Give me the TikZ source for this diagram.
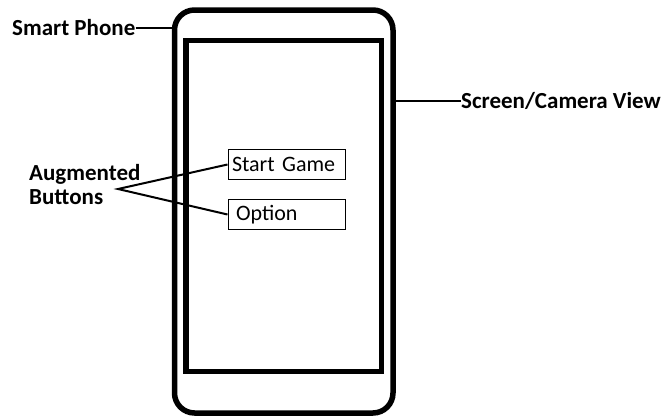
\documentclass[tikz,border=0pt]{standalone}
\usepackage{fontspec}
\setmainfont{Carlito}
\begin{document}
\begin{tikzpicture}[x=1pt,y=-1pt,
  thickframe/.style={draw, line width=5.5pt, rounded corners=#1, inner sep=0pt, outer sep=0pt},
  lbl/.style={font=\bfseries\fontsize{23}{24}\selectfont, inner sep=0pt, anchor=west},
  btn/.style={draw, line width=1pt, minimum width=117pt, minimum height=30pt, inner sep=0pt, text width=109pt, align=left, font=\fontsize{22}{24}\selectfont},
  conn/.style={line width=2pt}]
\useasboundingbox (0,0) rectangle (672,418);
\node[thickframe=20pt, minimum width=218.5pt, minimum height=403pt] (phone) at (283.75,211.5) {};
\node[thickframe=0pt, minimum width=195.5pt, minimum height=331pt] (screen) at (283.75,206) {};
\node[lbl] (sp) at (12,28) {Smart Phone};
\node[lbl] (scr) at (461,101) {Screen/Camera View};
\node[lbl, align=left] (aug) at (29,185) {Augmented\\Buttons};
\node[btn] (sg) at (286.5,164.5) {Start Game};
\node[btn] (opt) at (286.5,214.5) {\hspace{4pt}Option};
\coordinate (meet) at (118,189);
\draw[conn] (sp.east) -- (phone.west |- sp.east);
\draw[conn] (phone.east |- scr.west) -- (scr.west);
\draw[conn] (sg.west) -- (meet) -- (opt.west);
\end{tikzpicture}
\end{document}
